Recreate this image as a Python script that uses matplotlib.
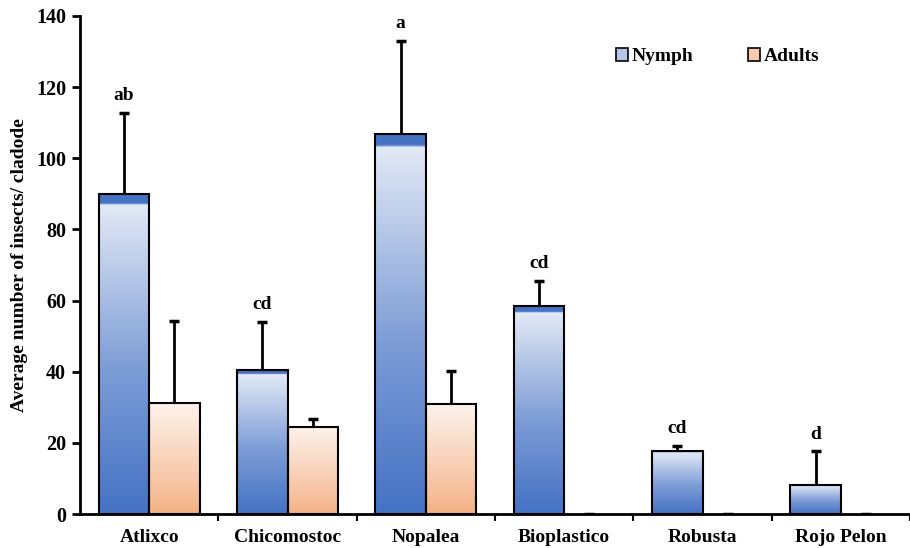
import numpy as np
import matplotlib
matplotlib.use("Agg")
import matplotlib.pyplot as plt
from matplotlib.colors import LinearSegmentedColormap
from matplotlib.patches import Rectangle, Patch

categories = ["Atlixco", "Chicomostoc", "Nopalea", "Bioplastico", "Robusta", "Rojo Pelon"]
nymph = [90.0, 40.5, 106.8, 58.5, 17.8, 8.2]
nymph_err = [22.7, 13.6, 26.2, 7.0, 1.4, 9.4]
adults = [31.2, 24.5, 30.9, 0.0, 0.0, 0.0]
adults_err = [23.0, 2.2, 9.3, 0.0, 0.0, 0.0]
letters = ["ab", "cd", "a", "cd", "cd", "d"]

FONT = "Liberation Serif"
plt.rcParams.update({"font.family": FONT, "font.weight": "bold"})

blue_cm = LinearSegmentedColormap.from_list(
    "nb", [(0, "#4472C4"), (0.45, "#7D9CD6"), (0.965, "#E2E9F6"), (0.97, "#4472C4"), (1, "#4472C4")])
peach_cm = LinearSegmentedColormap.from_list(
    "ad", [(0, "#F4B183"), (0.25, "#F6C3A2"), (1, "#FDF3EC")])
grad = np.linspace(0, 1, 256).reshape(-1, 1)

fig = plt.figure(figsize=(9.1, 5.48), dpi=100)
ax = fig.add_axes([0.088, 0.062, 0.912, 0.909])

w = 0.365
x = np.arange(len(categories))


def grad_bar(xc, h, cmap):
    if h <= 0:
        return
    ax.imshow(grad, extent=[xc - w / 2, xc + w / 2, 0, h], origin="lower",
              aspect="auto", cmap=cmap, zorder=2, interpolation="bilinear")
    ax.add_patch(Rectangle((xc - w / 2, 0), w, h, fill=False, ec="black", lw=1.5, zorder=3))


def up_err(xs, ys, errs):
    tops = np.array(ys) + np.array(errs)
    ax.vlines(xs, ys, tops, color="black", lw=2, zorder=4)
    ax.plot(xs, tops, ls="none", marker="_", ms=7, mew=2.5, color="black", zorder=4)


for i in range(len(categories)):
    grad_bar(x[i] - w / 2, nymph[i], blue_cm)
    grad_bar(x[i] + w / 2, adults[i], peach_cm)

up_err(x - w / 2, nymph, nymph_err)
up_err(x + w / 2, adults, adults_err)

for i, lab in enumerate(letters):
    ax.text(x[i] - w / 2, nymph[i] + nymph_err[i] + 2.5, lab, ha="center", va="bottom",
            fontsize=14, fontweight="bold")

ax.set_xlim(-0.5, 5.44)
ax.set_ylim(0, 140)
ax.set_yticks(range(0, 141, 20))
ax.set_xticks(x + 0.5, minor=False)
ax.set_xticklabels([""] * len(x))
ax.set_xticks(x, minor=True)
ax.set_xticklabels(categories, minor=True)
ax.tick_params(axis="x", which="minor", length=0, pad=11, labelsize=14)
ax.tick_params(axis="x", which="major", length=5, width=1.5, direction="out")
ax.tick_params(axis="y", length=6, width=2, labelsize=14.5, pad=4)
for lbl in ax.get_yticklabels() + ax.get_xticklabels(minor=True):
    lbl.set_fontweight("bold")
for sp in ("top", "right"):
    ax.spines[sp].set_visible(False)
ax.spines["left"].set_linewidth(2)
ax.spines["bottom"].set_linewidth(2)
ax.set_ylabel("Average number of insects/ cladode", fontsize=14, fontweight="bold", labelpad=6)

ax.legend(handles=[Patch(fc="#B4C7E7", ec="black", lw=1.2, label="Nymph"),
                   Patch(fc="#F8CBAD", ec="black", lw=1.2, label="Adults")],
          loc="upper left", bbox_to_anchor=(0.625, 0.97), ncol=2, frameon=False,
          prop={"family": FONT, "weight": "bold", "size": 14},
          handlelength=0.6, handleheight=0.6, handletextpad=0.2, columnspacing=2.8)

fig.savefig("out.png", dpi=100)
